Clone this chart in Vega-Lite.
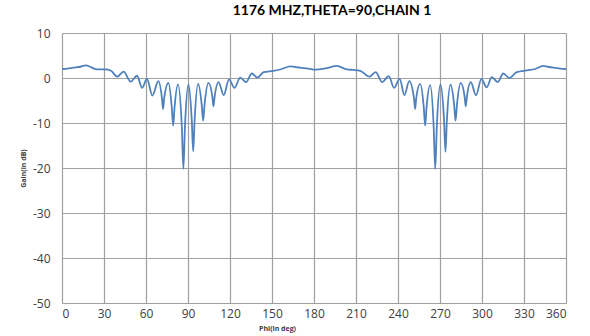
{
  "$schema": "https://vega.github.io/schema/vega-lite/v6.json",
  "width": 504,
  "height": 270,
  "autosize": {"type": "none"},
  "padding": {"left": 62, "top": 33, "right": 24, "bottom": 33},
  "background": "white",
  "title": {
    "text": "1176 MHZ,THETA=90,CHAIN 1",
    "font": "Lato",
    "fontSize": 14,
    "fontWeight": "bold",
    "color": "#000000",
    "offset": 9,
    "dx": 18
  },
  "config": {
    "view": {"stroke": null},
    "axis": {
      "grid": true,
      "gridColor": "#a0a0a0",
      "gridWidth": 1.2,
      "domain": false,
      "ticks": false,
      "labelFont": "Open Sans",
      "labelFontSize": 12,
      "labelColor": "#404040",
      "labelExpr": "toString(datum.value)",
      "titleFont": "Open Sans",
      "titleFontSize": 7,
      "titleFontWeight": "bold",
      "titleColor": "#404040"
    }
  },
  "data": {
    "values": [
      {"phi": 0, "gain": 2.0},
      {"phi": 4, "gain": 2.1},
      {"phi": 8, "gain": 2.3},
      {"phi": 13, "gain": 2.5},
      {"phi": 17, "gain": 2.8},
      {"phi": 20, "gain": 2.5},
      {"phi": 23, "gain": 2.1},
      {"phi": 27, "gain": 1.9},
      {"phi": 31, "gain": 1.9},
      {"phi": 35, "gain": 1.6},
      {"phi": 39.5, "gain": 0.3},
      {"phi": 44, "gain": 1.4},
      {"phi": 49, "gain": -0.8},
      {"phi": 53.6, "gain": 0.5},
      {"phi": 57.2, "gain": -2.2},
      {"phi": 60.7, "gain": -0.2},
      {"phi": 64.6, "gain": -3.9},
      {"phi": 68.8, "gain": -0.7},
      {"phi": 71.4, "gain": -4.5},
      {"phi": 72.2, "gain": -6.9},
      {"phi": 73.0, "gain": -4.5},
      {"phi": 76, "gain": -1.1},
      {"phi": 78.4, "gain": -6.5},
      {"phi": 79.4, "gain": -10.6},
      {"phi": 80.4, "gain": -6.5},
      {"phi": 82.8, "gain": -1.4},
      {"phi": 85.6, "gain": -11},
      {"phi": 86.7, "gain": -20.2},
      {"phi": 87.8, "gain": -11},
      {"phi": 90.3, "gain": -1.5},
      {"phi": 92.7, "gain": -9.5},
      {"phi": 93.7, "gain": -16.3},
      {"phi": 94.7, "gain": -9.5},
      {"phi": 97.2, "gain": -1.3},
      {"phi": 99.8, "gain": -6},
      {"phi": 100.8, "gain": -9.5},
      {"phi": 101.8, "gain": -6},
      {"phi": 104.6, "gain": -1.1},
      {"phi": 107.4, "gain": -4.2},
      {"phi": 108.2, "gain": -6.3},
      {"phi": 109.0, "gain": -4.2},
      {"phi": 111.8, "gain": -0.9},
      {"phi": 115.5, "gain": -3.8},
      {"phi": 119.3, "gain": -0.3},
      {"phi": 123.2, "gain": -2.2},
      {"phi": 127.3, "gain": 0.1},
      {"phi": 131.5, "gain": -0.9},
      {"phi": 135.6, "gain": 1.0},
      {"phi": 139.6, "gain": 0.1},
      {"phi": 144, "gain": 1.3},
      {"phi": 151, "gain": 1.6},
      {"phi": 157, "gain": 2.0},
      {"phi": 163, "gain": 2.6},
      {"phi": 170, "gain": 2.3},
      {"phi": 176, "gain": 2.1},
      {"phi": 181, "gain": 1.85},
      {"phi": 189, "gain": 2.2},
      {"phi": 196.4, "gain": 2.7},
      {"phi": 200, "gain": 2.3},
      {"phi": 203.6, "gain": 1.9},
      {"phi": 208, "gain": 1.8},
      {"phi": 213, "gain": 1.6},
      {"phi": 219.6, "gain": 0.3},
      {"phi": 224, "gain": 1.3},
      {"phi": 228.7, "gain": -0.9},
      {"phi": 233.4, "gain": 0.4},
      {"phi": 237.2, "gain": -2.2},
      {"phi": 241.2, "gain": -0.2},
      {"phi": 244.6, "gain": -3.8},
      {"phi": 248, "gain": -0.7},
      {"phi": 251.4, "gain": -4.5},
      {"phi": 252.2, "gain": -6.9},
      {"phi": 253.0, "gain": -4.5},
      {"phi": 255.8, "gain": -1.3},
      {"phi": 258.4, "gain": -6.5},
      {"phi": 259.4, "gain": -10.6},
      {"phi": 260.4, "gain": -6.5},
      {"phi": 263, "gain": -1.6},
      {"phi": 265.5, "gain": -11},
      {"phi": 266.6, "gain": -20.2},
      {"phi": 267.7, "gain": -11},
      {"phi": 270.3, "gain": -1.5},
      {"phi": 272.9, "gain": -9.5},
      {"phi": 273.9, "gain": -16.4},
      {"phi": 274.9, "gain": -9.5},
      {"phi": 277.5, "gain": -1.5},
      {"phi": 280.1, "gain": -6},
      {"phi": 281.1, "gain": -9.5},
      {"phi": 282.1, "gain": -6},
      {"phi": 284.8, "gain": -1.1},
      {"phi": 287.6, "gain": -4.2},
      {"phi": 288.4, "gain": -6.3},
      {"phi": 289.2, "gain": -4.2},
      {"phi": 292, "gain": -0.9},
      {"phi": 295.7, "gain": -3.85},
      {"phi": 299.6, "gain": -0.2},
      {"phi": 303.3, "gain": -2.1},
      {"phi": 307, "gain": 0.2},
      {"phi": 311.2, "gain": -0.9},
      {"phi": 315.2, "gain": 1.0},
      {"phi": 319.5, "gain": 0.0},
      {"phi": 324.8, "gain": 1.3},
      {"phi": 332, "gain": 1.7},
      {"phi": 338, "gain": 2.0},
      {"phi": 343.8, "gain": 2.7},
      {"phi": 347, "gain": 2.5},
      {"phi": 351, "gain": 2.3},
      {"phi": 356, "gain": 2.1},
      {"phi": 360, "gain": 2.0}
    ]
  },
  "mark": {"type": "line", "color": "#4f81bd", "strokeWidth": 1.8, "interpolate": "monotone"},
  "encoding": {
    "x": {
      "field": "phi",
      "type": "quantitative",
      "scale": {"domain": [0, 360], "nice": false},
      "axis": {
        "values": [0, 30, 60, 90, 120, 150, 180, 210, 240, 270, 300, 330, 360],
        "title": "Phi(in deg)",
        "labelPadding": 5,
        "titlePadding": 5,
        "titleX": 215
      }
    },
    "y": {
      "field": "gain",
      "type": "quantitative",
      "scale": {"domain": [-50, 10], "nice": false},
      "axis": {
        "values": [-50, -40, -30, -20, -10, 0, 10],
        "title": "Gain(in dB)",
        "labelPadding": 12,
        "titlePadding": 6
      }
    }
  }
}
